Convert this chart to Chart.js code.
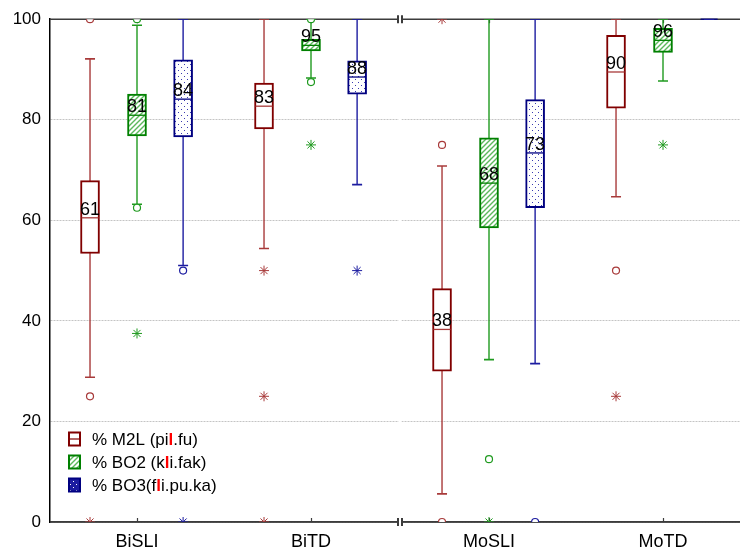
<!DOCTYPE html>
<html>
<head>
<meta charset="utf-8">
<script src="https://cdn.jsdelivr.net/npm/chart.js@4.4.0/dist/chart.umd.min.js"></script>
<style>
  html, body { margin: 0; padding: 0; background: #fff; }
</style>
</head>
<body>
<canvas id="grafico" width="740" height="550"></canvas>
<script>
// Categorias (grupos do eixo x)
const categorias = ['BiSLI', 'BiTD', 'MoSLI', 'MoTD'];

// % M2L (pil.fu)
const m2lQ1 = [53.4, 78.2, 30.0, 82.3];
const m2lMediana = [60.5, 82.7, 38.3, 89.5];
const m2lQ3 = [67.9, 87.3, 46.4, 96.8];
const m2lMin = [28.8, 54.4, 5.6, 64.7];
const m2lMax = [92.1, 100, 70.8, 100];
const m2lCirculos = [[100, 25], [], [75, 0], [50]];
const m2lAsteriscos = [[0], [50, 25, 0], [100], [25]];
const m2lRotulos = [61, 83, 38, 90];

// % BO2 (kli.fak)
const bo2Q1 = [76.8, 93.7, 58.5, 93.4];
const bo2Mediana = [80.9, 94.8, 67.4, 95.8];
const bo2Q3 = [85.1, 96.0, 76.4, 98.2];
const bo2Min = [63.2, 88.3, 32.3, 87.7];
const bo2Max = [98.8, 100, 100, 100];
const bo2Circulos = [[100, 62.5], [100, 87.5], [12.5], []];
const bo2Asteriscos = [[37.5], [75], [0], [75]];
const bo2Rotulos = [81, 95, 68, 96];

// % BO3(fli.pu.ka)
const bo3Q1 = [76.6, 85.1, 62.5, 100];
const bo3Mediana = [84.1, 88.5, 73.4, 100];
const bo3Q3 = [91.9, 91.7, 84.0, 100];
const bo3Min = [51.0, 67.1, 31.5, 100];
const bo3Max = [100, 100, 100, 100];
const bo3Circulos = [[50], [], [0], []];
const bo3Asteriscos = [[0], [50], [], []];
const bo3Rotulos = [84, 88, 73, null];

// Ticks do eixo y
const ticksY = [0, 20, 40, 60, 80, 100];

// Layout do eixo x (linear, com quebra entre os painéis Bi e Mo)
const posCategorias = [0.5, 1.5, 2.523, 3.523];
const deslocSeries = [-0.27, 0, 0.265];
const quebraX = [2.0, 2.023];
const fonte = '"Liberation Sans", Arial, sans-serif';

// Padrões de preenchimento
function padraoHachura() {
    const c = document.createElement('canvas');
    c.width = 5; c.height = 5;
    const g = c.getContext('2d');
    g.fillStyle = '#fff';
    g.fillRect(0, 0, 5, 5);
    g.strokeStyle = '#5cb85c';
    g.lineWidth = 1.4;
    g.beginPath();
    g.moveTo(-1, 6); g.lineTo(6, -1);
    g.moveTo(-1, 1); g.lineTo(1, -1);
    g.moveTo(4, 6); g.lineTo(6, 4);
    g.stroke();
    return g.createPattern(c, 'repeat');
}

function padraoPontos(fundo, ponto) {
    const c = document.createElement('canvas');
    c.width = 6; c.height = 6;
    const g = c.getContext('2d');
    g.fillStyle = fundo;
    g.fillRect(0, 0, 6, 6);
    g.fillStyle = ponto;
    g.fillRect(1, 1, 1, 1);
    g.fillRect(4, 4, 1, 1);
    return g.createPattern(c, 'repeat');
}

const series = [
    {
        nome: ['% M2L (pi', 'l', '.fu)'],
        q1: m2lQ1, med: m2lMediana, q3: m2lQ3, min: m2lMin, max: m2lMax,
        circ: m2lCirculos, ast: m2lAsteriscos, rot: m2lRotulos,
        borda: '#800000', bigode: '#a83a3a', mediana: '#a83a3a', fundo: '#ffffff'
    },
    {
        nome: ['% BO2 (k', 'l', 'i.fak)'],
        q1: bo2Q1, med: bo2Mediana, q3: bo2Q3, min: bo2Min, max: bo2Max,
        circ: bo2Circulos, ast: bo2Asteriscos, rot: bo2Rotulos,
        borda: '#008000', bigode: '#1f9a1f', mediana: '#008000', fundo: padraoHachura()
    },
    {
        nome: ['% BO3(f', 'l', 'i.pu.ka)'],
        q1: bo3Q1, med: bo3Mediana, q3: bo3Q3, min: bo3Min, max: bo3Max,
        circ: bo3Circulos, ast: bo3Asteriscos, rot: bo3Rotulos,
        borda: '#000080', bigode: '#1c1ca0', mediana: '#000080', fundo: padraoPontos('#ffffff', '#3a3ab0')
    }
];

// Monta os datasets de cada série
const datasets = [];
series.forEach((s, i) => {
    const xs = posCategorias.map(p => p + deslocSeries[i]);

    // Caixa (Q1..Q3)
    datasets.push({
        type: 'bar',
        data: xs.map((x, k) => ({ x: x, y: [s.q1[k], s.q3[k]] })),
        backgroundColor: s.fundo,
        borderColor: s.borda,
        borderWidth: 2,
        borderSkipped: false,
        barThickness: 19,
        grouped: false,
        order: 4
    });

    // Bigodes
    datasets.push({
        type: 'line',
        data: xs.flatMap((x, k) => [{ x: x, y: s.min[k] }, { x: x, y: s.max[k] }, { x: x, y: null }]),
        borderColor: s.bigode,
        borderWidth: 1.4,
        pointRadius: 0,
        spanGaps: false,
        order: 5
    });

    // Extremidades dos bigodes
    datasets.push({
        type: 'scatter',
        data: xs.flatMap((x, k) => [{ x: x, y: s.min[k] }, { x: x, y: s.max[k] }]),
        pointStyle: 'line',
        pointRadius: 5,
        borderColor: s.bigode,
        borderWidth: 1.6,
        order: 3
    });

    // Mediana
    datasets.push({
        type: 'scatter',
        data: xs.map((x, k) => ({ x: x, y: s.med[k] })),
        pointStyle: 'line',
        pointRadius: 8.5,
        borderColor: s.mediana,
        borderWidth: 1.3,
        clip: false,
        order: 3
    });

    // Outliers (círculos)
    datasets.push({
        type: 'scatter',
        data: xs.flatMap((x, k) => s.circ[k].map(v => ({ x: x, y: v }))),
        pointStyle: 'circle',
        pointRadius: 3.5,
        backgroundColor: '#fff',
        borderColor: s.bigode,
        borderWidth: 1.2,
        order: 2
    });

    // Extremos (asteriscos)
    datasets.push({
        type: 'scatter',
        data: xs.flatMap((x, k) => s.ast[k].map(v => ({ x: x, y: v }))),
        pointStyle: 'star',
        pointRadius: 5,
        borderColor: s.bigode,
        borderWidth: 1,
        order: 2
    });
});

// Plugin: borda superior, quebra do eixo, ticks do eixo x, rótulos e legenda
const extras = {
    id: 'extras',
    beforeDatasetsDraw(chart) {
        const { ctx, chartArea: a, scales: { x } } = chart;
        const x1 = x.getPixelForValue(quebraX[0]);
        const x2 = x.getPixelForValue(quebraX[1]);
        ctx.save();
        ctx.fillStyle = '#fff';
        ctx.fillRect(x1 + 0.5, a.top, x2 - x1 - 1, a.bottom - a.top);

        // Linhas superior e inferior com a quebra
        ctx.strokeStyle = '#3c3c3c';
        [a.top, a.bottom].forEach(yy => {
            ctx.lineWidth = 1.5;
            ctx.beginPath();
            ctx.moveTo(a.left, yy); ctx.lineTo(x1, yy);
            ctx.moveTo(x2, yy); ctx.lineTo(a.right, yy);
            ctx.stroke();
            ctx.clearRect(x1 + 0.5, yy - 2, x2 - x1 - 1, 4);
            ctx.lineWidth = 2;
            ctx.beginPath();
            ctx.moveTo(x1, yy - 4); ctx.lineTo(x1, yy + 4);
            ctx.moveTo(x2, yy - 4); ctx.lineTo(x2, yy + 4);
            ctx.stroke();
        });

        // Ticks do eixo x (para dentro)
        ctx.lineWidth = 1.2;
        posCategorias.forEach(p => {
            const px = Math.round(x.getPixelForValue(p)) + 0.5;
            ctx.beginPath();
            ctx.moveTo(px, a.bottom); ctx.lineTo(px, a.bottom - 4);
            ctx.moveTo(px, a.top); ctx.lineTo(px, a.top + 4);
            ctx.stroke();
        });
        ctx.restore();
    },
    afterDatasetsDraw(chart) {
        const { ctx, scales: { x, y } } = chart;
        ctx.save();

        // Rótulos das medianas
        ctx.fillStyle = '#000';
        ctx.font = '18px ' + fonte;
        ctx.textAlign = 'center';
        ctx.textBaseline = 'bottom';
        series.forEach((s, i) => {
            s.rot.forEach((r, k) => {
                if (r === null) return;
                const px = x.getPixelForValue(posCategorias[k] + deslocSeries[i]);
                const py = y.getPixelForValue(s.med[k]);
                ctx.fillText(String(r), px, py + 1);
            });
        });

        // Legenda
        const linhasY = [439, 462, 485];
        ctx.textAlign = 'left';
        ctx.textBaseline = 'middle';
        series.forEach((s, i) => {
            const cy = linhasY[i];
            const ix = 69, iw = 11, ih = 13;
            ctx.fillStyle = i === 2 ? padraoPontos('#1c1ca0', '#ffffff') : s.fundo;
            ctx.fillRect(ix, cy - ih / 2, iw, ih);
            ctx.strokeStyle = s.borda;
            ctx.lineWidth = 2;
            ctx.strokeRect(ix, cy - ih / 2, iw, ih);
            if (i === 0) {
                ctx.lineWidth = 1.2;
                ctx.beginPath();
                ctx.moveTo(ix, cy); ctx.lineTo(ix + iw, cy);
                ctx.stroke();
            }
            let tx = 92;
            s.nome.forEach((parte, j) => {
                if (j === 1) {
                    ctx.font = 'bold 17px ' + fonte;
                    ctx.fillStyle = '#ff0000';
                } else {
                    ctx.font = '17px ' + fonte;
                    ctx.fillStyle = '#000';
                }
                ctx.fillText(parte, tx, cy + 1);
                tx += ctx.measureText(parte).width;
            });
        });
        ctx.restore();
    }
};

Chart.defaults.font.family = fonte;
Chart.defaults.font.size = 17;
Chart.defaults.color = '#000';

new Chart(document.getElementById('grafico'), {
    type: 'bar',
    data: { datasets: datasets },
    options: {
        responsive: false,
        animation: false,
        devicePixelRatio: 1,
        layout: { autoPadding: false, padding: { top: 18, right: 0, left: 0, bottom: 0 } },
        plugins: { legend: { display: false }, tooltip: { enabled: false } },
        scales: {
            x: {
                type: 'linear',
                min: 0,
                max: 3.9655,
                offset: false,
                afterBuildTicks: (scale) => {
                    scale.ticks = posCategorias.map(v => ({ value: v }));
                },
                afterFit: (scale) => {
                    scale.height = 28;
                    scale.paddingLeft = 0;
                    scale.paddingRight = 0;
                },
                ticks: {
                    autoSkip: false,
                    maxRotation: 0,
                    padding: 1,
                    font: { size: 18 },
                    callback: (v, idx) => categorias[idx]
                },
                grid: { display: false },
                border: { display: true, color: '#3c3c3c', width: 1.5 }
            },
            y: {
                min: 0,
                max: 100,
                afterBuildTicks: (scale) => {
                    scale.ticks = ticksY.map(v => ({ value: v }));
                },
                afterFit: (scale) => { scale.width = 50; },
                ticks: { padding: 9 },
                grid: { color: '#c4c4c4', drawTicks: false, lineWidth: 1 },
                border: { display: true, color: '#000', width: 1.5, dash: [2, 1] }
            }
        }
    },
    plugins: [extras]
});
</script>
</body>
</html>
